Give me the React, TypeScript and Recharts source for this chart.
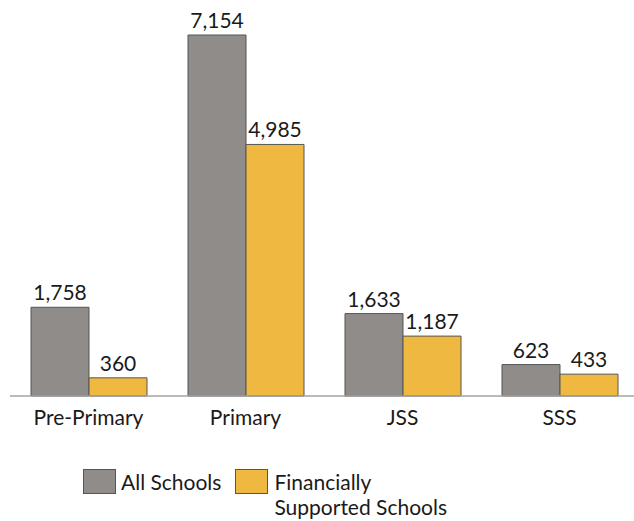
import React from "react";
import { BarChart, Bar, XAxis, YAxis, LabelList } from "recharts";

const categories = ["Pre-Primary", "Primary", "JSS", "SSS"];
const allSchools = [1758, 7154, 1633, 623];
const supportedSchools = [360, 4985, 1187, 433];

const data = categories.map((name, i) => ({
  name,
  all: allSchools[i],
  supported: supportedSchools[i],
}));

const GRAY = "#8f8c89";
const YELLOW = "#efb840";
const FONT = "Lato, 'Noto Sans', sans-serif";
const TEXT = "#1a1a1a";

const fmt = (v: any) => Number(v).toLocaleString("en-US");

function LegendBox() {
  const swatch = (color: string) => (
    <div
      style={{
        width: 31,
        height: 23,
        background: color,
        border: "1px solid #555",
        flexShrink: 0,
      }}
    />
  );
  return (
    <div
      style={{
        position: "absolute",
        left: 83,
        top: 469,
        display: "flex",
        alignItems: "flex-start",
        fontFamily: FONT,
        fontSize: 21,
        color: TEXT,
        lineHeight: "25px",
        whiteSpace: "nowrap",
      }}
    >
      {swatch(GRAY)}
      <div style={{ marginLeft: 5, marginRight: 14 }}>All Schools</div>
      {swatch(YELLOW)}
      <div style={{ marginLeft: 6 }}>
        Financially
        <br />
        Supported Schools
      </div>
    </div>
  );
}

export default function App() {
  const labelStyle = { fill: TEXT, fontSize: 21, fontFamily: FONT };
  return (
    <div style={{ position: "absolute", left: 0, top: 0, width: 634, height: 521, overflow: "hidden", background: "#fff" }}>
      <BarChart
        width={646}
        height={521}
        data={data}
        margin={{ top: 35, right: 8, left: 10, bottom: 95 }}
        barCategoryGap={21}
        barGap={0}
      >
        <XAxis
          dataKey="name"
          height={30}
          tickLine={false}
          stroke="#a3a3a3"
          strokeWidth={1.5}
          tickMargin={8}
          tick={{ fill: TEXT, fontSize: 21, fontFamily: FONT }}
          interval={0}
        />
        <YAxis hide domain={[0, 7154]} />
        <Bar dataKey="all" fill={GRAY} stroke="#555" strokeWidth={1} isAnimationActive={false}>
          <LabelList dataKey="all" position="top" offset={7} formatter={fmt} style={labelStyle} />
        </Bar>
        <Bar dataKey="supported" fill={YELLOW} stroke="#555" strokeWidth={1} isAnimationActive={false}>
          <LabelList dataKey="supported" position="top" offset={7} formatter={fmt} style={labelStyle} />
        </Bar>
      </BarChart>
      <LegendBox />
    </div>
  );
}
